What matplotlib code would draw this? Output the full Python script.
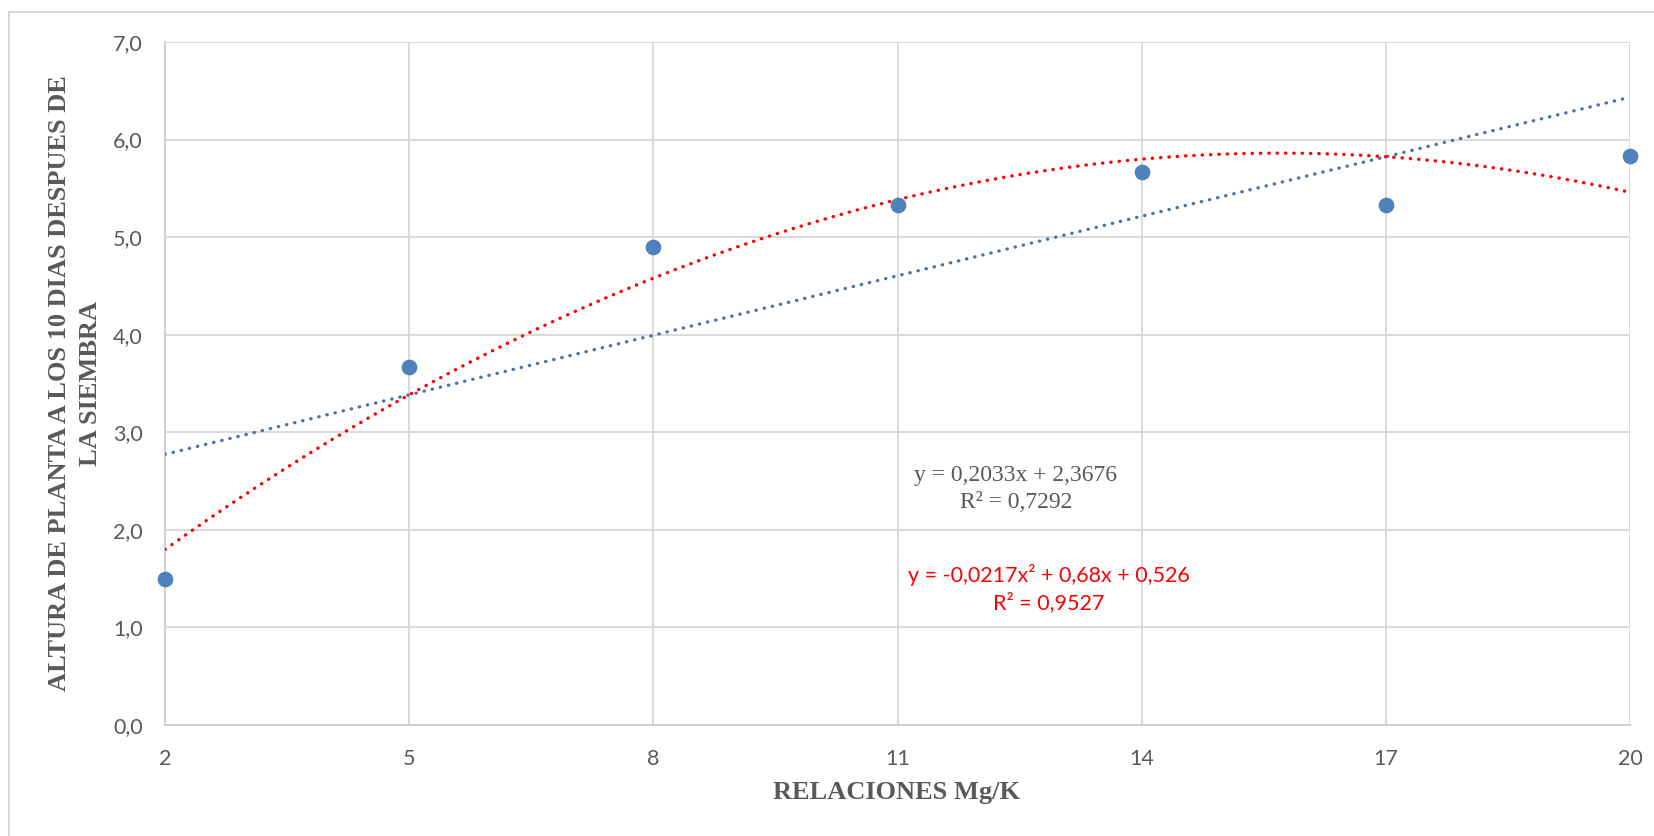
import numpy as np
import matplotlib
matplotlib.use("Agg")
import matplotlib.pyplot as plt
from matplotlib.patches import Rectangle

# Data
relaciones = [2, 5, 8, 11, 14, 17, 20]
altura = [1.50, 3.67, 4.90, 5.33, 5.67, 5.33, 5.83]
x_ticks = [2, 5, 8, 11, 14, 17, 20]
y_ticks = [0, 1, 2, 3, 4, 5, 6, 7]

W, H = 1654, 836
fig = plt.figure(figsize=(W / 100, H / 100), dpi=100)

def fx(px):
    return px / W

def fy(py):
    return 1 - py / H

# outer chart border (right and bottom edges fall outside the image)
fig.patches.append(Rectangle((fx(9), fy(900)), fx(1700), (900 - 12) / H,
                             transform=fig.transFigure, fill=False,
                             edgecolor="#d9d9d9", linewidth=1.5))

ax = fig.add_axes([fx(165), fy(725), fx(1630) - fx(165), fy(42) - fy(725)])

grid_col = "#d9d9d9"
text_col = "#595959"

# trendlines (fitted from the data)
xs = np.linspace(2, 20, 300)
lin = np.polyfit(relaciones, altura, 1)
quad = np.polyfit(relaciones, altura, 2)
dot = (0, (0.1, 2.4))
ax.plot(xs, np.polyval(lin, xs), color="#4a72ac", lw=2.4, linestyle=dot,
        dash_capstyle="round", zorder=3)
ax.plot(xs, np.polyval(quad, xs), color="#ff0000", lw=2.4, linestyle=dot,
        dash_capstyle="round", zorder=3)

ax.scatter(relaciones, altura, s=128, color="#4f81bd", zorder=4, linewidths=0,
           clip_on=False)

ax.set_xlim(2, 20)
ax.set_ylim(0, 7)
ax.set_xticks(x_ticks)
ax.set_yticks(y_ticks)
ax.set_xticklabels([str(v) for v in x_ticks])
ax.set_yticklabels([f"{v:.1f}".replace(".", ",") for v in y_ticks])
ax.tick_params(length=0, labelsize=15.5, labelcolor=text_col)
ax.tick_params(axis="x", pad=17)
ax.tick_params(axis="y", pad=16)
for lab in ax.get_xticklabels() + ax.get_yticklabels():
    lab.set_family("Lato")

ax.grid(True, color=grid_col, linewidth=1.4)
ax.set_axisbelow(True)
for s in ["top", "right"]:
    ax.spines[s].set_visible(False)
for s in ["left", "bottom"]:
    ax.spines[s].set_color("#d0d0d0")
    ax.spines[s].set_linewidth(1.4)

# axis titles
fig.text(fx(897), fy(793), "RELACIONES Mg/K", ha="center", va="center",
         family="Liberation Serif", weight="bold", fontsize=19, color=text_col)
fig.text(fx(75), fy(383), "ALTURA DE PLANTA A LOS 10 DIAS DESPUES DE\nLA SIEMBRA",
         ha="center", va="center", rotation=90, multialignment="center",
         family="Liberation Serif", weight="bold", fontsize=19, color=text_col,
         linespacing=1.4)

# trendline equations
fig.text(fx(1016), fy(475), "y = 0,2033x + 2,3676", ha="center", va="center",
         family="Liberation Serif", fontsize=17, color=text_col)
fig.text(fx(1016), fy(502), "R² = 0,7292", ha="center", va="center",
         family="Liberation Serif", fontsize=17, color=text_col)
fig.text(fx(1049), fy(575), "y = -0,0217x² + 0,68x + 0,526", ha="center", va="center",
         family="Lato", fontsize=15.5, color="#ff0000")
fig.text(fx(1049), fy(603), "R² = 0,9527", ha="center", va="center",
         family="Lato", fontsize=15.5, color="#ff0000")

fig.savefig("out.png", dpi=100)
